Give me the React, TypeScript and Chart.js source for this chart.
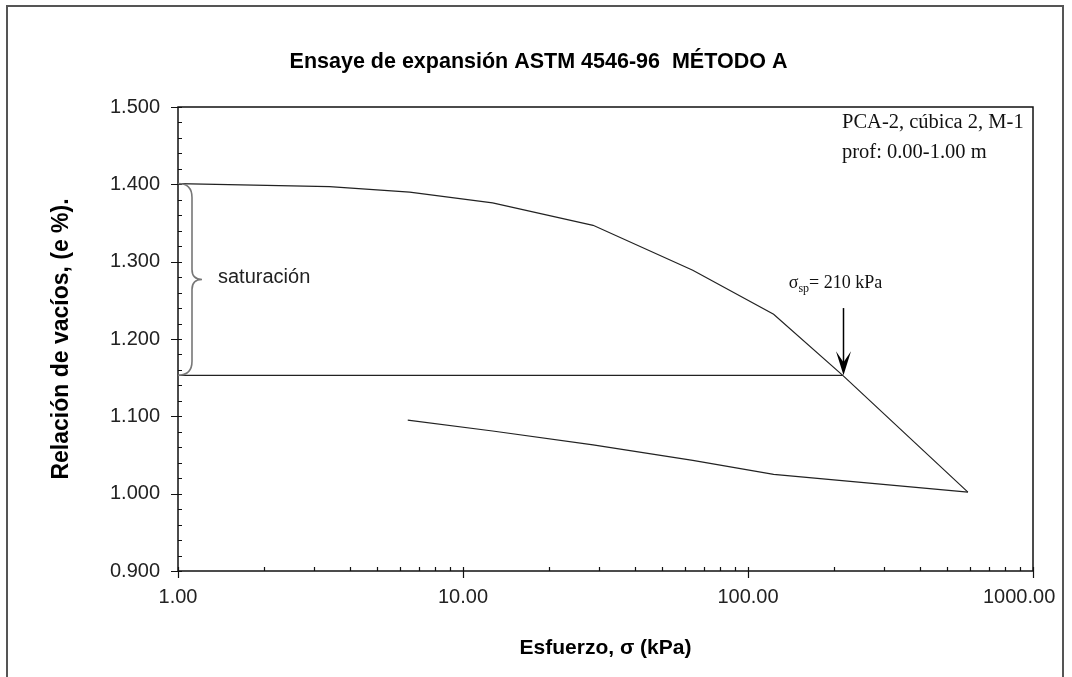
import React, { useEffect, useRef } from "react";
import { Chart, registerables } from "chart.js";
Chart.register(...registerables);

// ---- data ----
const loadingX = [1.0, 3.4, 6.5, 12.7, 28.6, 64, 123, 215, 591];
const loadingY = [1.401, 1.397, 1.39, 1.376, 1.347, 1.289, 1.232, 1.153, 1.002];
const unloadingX = [591, 123, 64, 28.6, 12.7, 6.4];
const unloadingY = [1.002, 1.025, 1.043, 1.063, 1.081, 1.095];
const saturationX = [1.0, 215];
const saturationY = [1.153, 1.153];
const xTicks = [1, 10, 100, 1000];
const yTicks = [0.9, 1.0, 1.1, 1.2, 1.3, 1.4, 1.5];
const yMinorStep = 0.02;
const braceTop = 1.401;
const braceBottom = 1.153;
const arrowX = 215;
const arrowTopY = 1.24;

const titleText = "Ensaye de expansión ASTM 4546-96  MÉTODO A";
const xTitle = "Esfuerzo, σ (kPa)";
const yTitle = "Relación de vacíos, (e %).";
const braceLabel = "saturación";
const infoLines = ["PCA-2, cúbica 2, M-1", "prof: 0.00-1.00 m"];
const sigmaLabel = { sym: "σ", sub: "sp", rest: "= 210 kPa" };

const SANS = "'Liberation Sans', Arial, sans-serif";
const SERIF = "'Liberation Serif', 'Times New Roman', serif";

const toPts = (xs: number[], ys: number[]) => xs.map((x, i) => ({ x, y: ys[i] }));

const decorPlugin = {
  id: "decor",
  afterDraw(chart: any) {
    const ctx = chart.ctx as CanvasRenderingContext2D;
    const { left, right, top, bottom } = chart.chartArea;
    const xs = chart.scales.x;
    const ys = chart.scales.y;
    ctx.save();

    // outer frame
    ctx.strokeStyle = "#555";
    ctx.lineWidth = 2;
    ctx.strokeRect(7, 6, 1056, 700);

    // plot box
    ctx.strokeStyle = "#111";
    ctx.lineWidth = 1.5;
    ctx.strokeRect(left, top, right - left, bottom - top);

    // y ticks
    ctx.lineWidth = 1.2;
    ctx.beginPath();
    for (let v = 0.9; v <= 1.5001; v += yMinorStep) {
      const py = Math.round(ys.getPixelForValue(v)) + 0.5;
      const isMajor = Math.abs(Math.round(v * 10) - v * 10) < 1e-6;
      if (isMajor) {
        ctx.moveTo(left - 7, py);
        ctx.lineTo(left + 4, py);
      } else {
        ctx.moveTo(left, py);
        ctx.lineTo(left + 4, py);
      }
    }
    // x ticks
    for (let d = 1; d <= 1000; d *= 10) {
      for (let m = 1; m <= 9; m++) {
        const v = d * m;
        if (v > 1000) break;
        const px = Math.round(xs.getPixelForValue(v)) + 0.5;
        if (m === 1) {
          ctx.moveTo(px, bottom + 7);
          ctx.lineTo(px, bottom - 4);
        } else {
          ctx.moveTo(px, bottom);
          ctx.lineTo(px, bottom - 4);
        }
      }
    }
    ctx.stroke();

    // brace
    const bx0 = xs.getPixelForValue(1);
    const yT = ys.getPixelForValue(braceTop);
    const yB = ys.getPixelForValue(braceBottom);
    const yM = (yT + yB) / 2;
    const bx1 = bx0 + 14;
    const bx2 = bx0 + 24;
    ctx.strokeStyle = "#777";
    ctx.lineWidth = 1.6;
    ctx.beginPath();
    ctx.moveTo(bx0, yT);
    ctx.quadraticCurveTo(bx1, yT, bx1, yT + 14);
    ctx.lineTo(bx1, yM - 10);
    ctx.quadraticCurveTo(bx1, yM, bx2, yM);
    ctx.quadraticCurveTo(bx1, yM, bx1, yM + 10);
    ctx.lineTo(bx1, yB - 14);
    ctx.quadraticCurveTo(bx1, yB, bx0, yB);
    ctx.stroke();

    ctx.fillStyle = "#222";
    ctx.font = `20px ${SANS}`;
    ctx.textAlign = "left";
    ctx.textBaseline = "middle";
    ctx.fillText(braceLabel, bx0 + 40, yM - 2);

    // arrow
    const ax = Math.round(xs.getPixelForValue(arrowX)) + 0.5;
    const ayT = ys.getPixelForValue(arrowTopY);
    const ayB = ys.getPixelForValue(braceBottom);
    ctx.strokeStyle = "#000";
    ctx.fillStyle = "#000";
    ctx.lineWidth = 1.5;
    ctx.beginPath();
    ctx.moveTo(ax, ayT);
    ctx.lineTo(ax, ayB - 10);
    ctx.stroke();
    ctx.beginPath();
    ctx.moveTo(ax, ayB);
    ctx.lineTo(ax - 7.5, ayB - 24);
    ctx.lineTo(ax, ayB - 13);
    ctx.lineTo(ax + 7.5, ayB - 24);
    ctx.closePath();
    ctx.fill();

    // sigma label
    ctx.textBaseline = "alphabetic";
    const f1 = `18px ${SERIF}`;
    const f2 = `12px ${SERIF}`;
    ctx.font = f1;
    const w1 = ctx.measureText(sigmaLabel.sym).width;
    const w3 = ctx.measureText(sigmaLabel.rest).width;
    ctx.font = f2;
    const w2 = ctx.measureText(sigmaLabel.sub).width;
    const total = w1 + w2 + w3;
    let sx = ax - 8 - total / 2;
    const sy = ayT - 20;
    ctx.fillStyle = "#111";
    ctx.font = f1;
    ctx.fillText(sigmaLabel.sym, sx, sy);
    sx += w1;
    ctx.font = f2;
    ctx.fillText(sigmaLabel.sub, sx, sy + 4);
    sx += w2;
    ctx.font = f1;
    ctx.fillText(sigmaLabel.rest, sx, sy);

    // info text
    ctx.font = `20.5px ${SERIF}`;
    ctx.textBaseline = "middle";
    ctx.fillText(infoLines[0], right - 191, top + 16);
    ctx.fillText(infoLines[1], right - 191, top + 46);

    // titles
    ctx.fillStyle = "#000";
    ctx.font = `bold 21.5px ${SANS}`;
    ctx.textAlign = "center";
    ctx.fillText(titleText, (left + right) / 2 - 67, 62);

    ctx.font = `bold 21px ${SANS}`;
    ctx.fillText(xTitle, (left + right) / 2, 648);

    ctx.save();
    ctx.translate(62, (top + bottom) / 2);
    ctx.rotate(-Math.PI / 2);
    ctx.font = `bold 23px ${SANS}`;
    ctx.fillText(yTitle, 0, 0);
    ctx.restore();

    ctx.restore();
  },
};

export default function App() {
  const ref = useRef<HTMLCanvasElement>(null);
  useEffect(() => {
    document.body.style.margin = "0";
    const lineStyle = {
      showLine: true,
      borderColor: "#222",
      borderWidth: 1.2,
      pointRadius: 0,
      fill: false,
      tension: 0,
    };
    const chart = new Chart(ref.current!, {
      type: "scatter",
      data: {
        datasets: [
          { label: "carga", data: toPts(loadingX, loadingY), ...lineStyle },
          { label: "descarga", data: toPts(unloadingX, unloadingY), ...lineStyle },
          { label: "saturación", data: toPts(saturationX, saturationY), ...lineStyle },
        ],
      },
      options: {
        responsive: false,
        animation: false,
        layout: { padding: { top: 107, right: 39, left: 0, bottom: 0 } },
        plugins: { legend: { display: false }, tooltip: { enabled: false }, title: { display: false } },
        scales: {
          x: {
            type: "logarithmic",
            min: 1,
            max: 1000,
            afterBuildTicks: (s: any) => {
              s.ticks = xTicks.map((v) => ({ value: v }));
            },
            afterFit: (s: any) => {
              s.height = 106;
              s.paddingLeft = 0;
              s.paddingRight = 0;
            },
            grid: { display: false },
            border: { display: false },
            ticks: {
              autoSkip: false,
              maxRotation: 0,
              padding: 6,
              color: "#222",
              font: { family: SANS, size: 20 },
              // the last label sits slightly inside the frame in the reference
              callback: (v: any) => {
                const s = Number(v).toFixed(2);
                return Number(v) >= 1000 ? s + "     " : s;
              },
            },
          },
          y: {
            type: "linear",
            min: 0.9,
            max: 1.5,
            afterBuildTicks: (s: any) => {
              s.ticks = yTicks.map((v) => ({ value: v }));
            },
            afterFit: (s: any) => {
              s.width = 178;
              s.paddingTop = 0;
              s.paddingBottom = 0;
            },
            grid: { display: false },
            border: { display: false },
            ticks: {
              padding: 10,
              color: "#222",
              font: { family: SANS, size: 20 },
              callback: (v: any) => Number(v).toFixed(3),
            },
          },
        },
      },
      plugins: [decorPlugin],
    } as any);
    return () => chart.destroy();
  }, []);
  return (
    <div style={{ position: "fixed", left: 0, top: 0, width: 1072, height: 677, background: "#fff" }}>
      <canvas ref={ref} width={1072} height={677} style={{ display: "block" }} />
    </div>
  );
}
